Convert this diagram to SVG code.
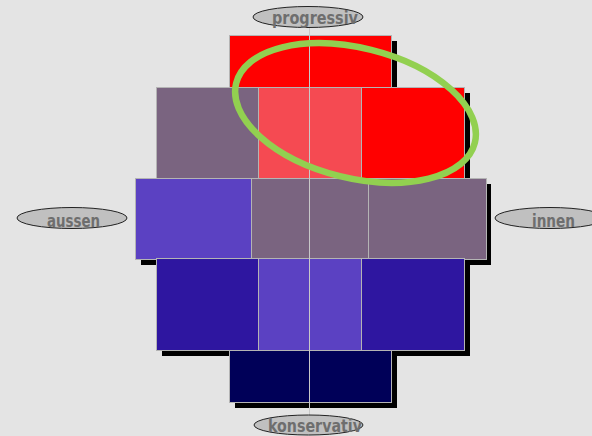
<svg xmlns="http://www.w3.org/2000/svg" width="592" height="436" viewBox="0 0 592 436">
<style>
.c{stroke:#b4b4b4;stroke-width:1}
.sh{fill:#000}
.lbl{fill:#c0c0c0;stroke:#222;stroke-width:1}
.t{font-family:"DejaVu Sans Condensed","DejaVu Sans",sans-serif;font-stretch:condensed;font-weight:bold;font-size:17px;fill:#6e6e6e;text-anchor:middle}
</style>
<rect width="592" height="436" fill="#e4e4e4"/>
<g id="shadows">
<rect class="sh" x="235" y="41" width="162" height="52"/>
<rect class="sh" x="162" y="93" width="308" height="91"/>
<rect class="sh" x="141" y="184" width="350" height="81"/>
<rect class="sh" x="162" y="264" width="308" height="92"/>
<rect class="sh" x="235" y="356" width="162" height="52"/>
</g>
<g id="row1"><rect class="c" x="229.5" y="35.5" width="162" height="52" fill="#ff0000"/></g>
<g id="row2">
<rect class="c" x="156.5" y="87.5" width="102" height="91" fill="#7a6480"/>
<rect class="c" x="258.5" y="87.5" width="103" height="91" fill="#f54a52"/>
<rect class="c" x="361.5" y="87.5" width="103" height="91" fill="#ff0000"/>
</g>
<g id="row3">
<rect class="c" x="135.5" y="178.5" width="116" height="81" fill="#5b41c2"/>
<rect class="c" x="251.5" y="178.5" width="117" height="81" fill="#7a6480"/>
<rect class="c" x="368.5" y="178.5" width="118" height="81" fill="#7a6480"/>
</g>
<g id="row4">
<rect class="c" x="156.5" y="258.5" width="102" height="92" fill="#2e16a0"/>
<rect class="c" x="258.5" y="258.5" width="103" height="92" fill="#5b41c2"/>
<rect class="c" x="361.5" y="258.5" width="103" height="92" fill="#2e16a0"/>
</g>
<g id="row5"><rect class="c" x="229.5" y="350.5" width="162" height="52" fill="#000058"/></g>
<g id="connectors"><line x1="309.5" y1="17" x2="309.5" y2="424" stroke="#c8c8c8" stroke-width="1"/></g>
<g id="highlight"><ellipse cx="355.5" cy="113" rx="123" ry="65" transform="rotate(14 355.5 113)" fill="none" stroke="#92d050" stroke-width="6.5"/></g>
<g id="progressiv"><ellipse class="lbl" cx="308" cy="17" rx="55" ry="10.5"/><text class="t" x="315" y="24" textLength="86" lengthAdjust="spacingAndGlyphs">progressiv</text></g>
<g id="aussen"><ellipse class="lbl" cx="72" cy="218" rx="55" ry="10.5"/><text class="t" x="73.5" y="227" textLength="53" lengthAdjust="spacingAndGlyphs">aussen</text></g>
<g id="innen"><ellipse class="lbl" cx="550" cy="218" rx="55" ry="10.5"/><text class="t" x="553.5" y="227" textLength="43" lengthAdjust="spacingAndGlyphs">innen</text></g>
<g id="konservativ"><ellipse class="lbl" cx="308.5" cy="425" rx="54.5" ry="10"/><text class="t" x="315" y="432" textLength="94" lengthAdjust="spacingAndGlyphs">konservativ</text></g>
</svg>
